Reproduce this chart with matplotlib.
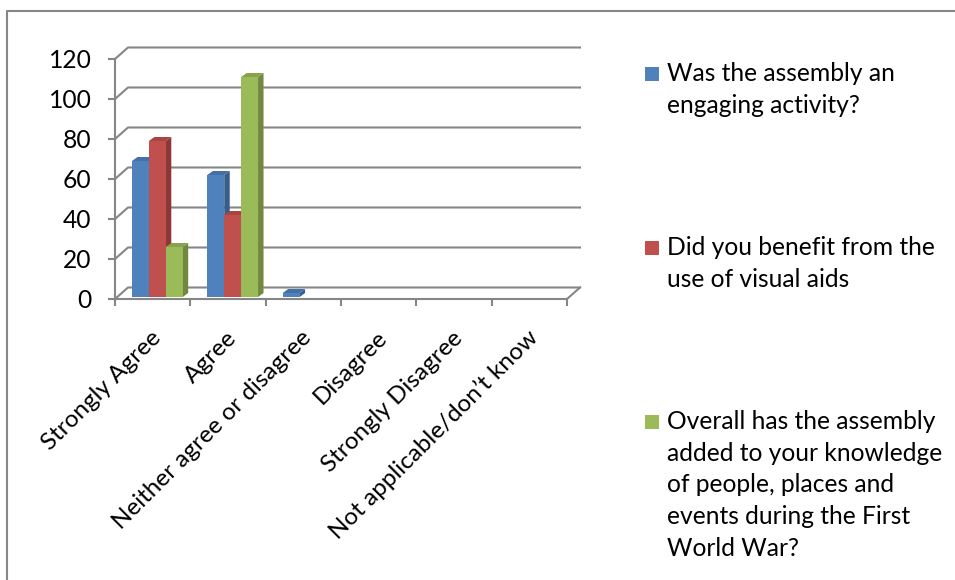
import matplotlib
matplotlib.use("Agg")
import matplotlib.pyplot as plt
import matplotlib.transforms as mtransforms
from matplotlib.patches import Polygon, Rectangle
from matplotlib.lines import Line2D

# Survey responses per category
categories = [
    "Strongly Agree",
    "Agree",
    "Neither agree or disagree",
    "Disagree",
    "Strongly Disagree",
    "Not applicable/don\u2019t know",
]
engaging = [68, 61, 2, 0, 0, 0]
visual_aids = [78, 41, 0, 0, 0, 0]
knowledge = [25, 110, 0, 0, 0, 0]

series_labels = [
    "Was the assembly an\nengaging activity?",
    "Did you benefit from the\nuse of visual aids",
    "Overall has the assembly\nadded to your knowledge\nof people, places and\nevents during the First\nWorld War?",
]
y_ticks = [0, 20, 40, 60, 80, 100, 120]

# Excel 2007 palette: front, top, side
front_colors = ["#4F81BD", "#C0504D", "#9BBB59"]
top_colors = ["#4470A6", "#A84441", "#86A44B"]
side_colors = ["#385D8A", "#8C3836", "#71893F"]
GRID = "#868686"
FS = 17.7
FS_CAT = 17.5

plt.rcParams["font.family"] = ["Lato", "DejaVu Sans"]

W, H = 955, 580
fig = plt.figure(figsize=(W / 100, H / 100), dpi=100)

# axes = front plane of the 3D plot
x0_px, x1_px, y0_px, y1_px = 115, 567, 299, 59
ax = fig.add_axes([x0_px / W, 1 - y0_px / H, (x1_px - x0_px) / W, (y0_px - y1_px) / H])
n = len(categories)
ax.set_xlim(0, n)
ax.set_ylim(0, 120)
ppx = (x1_px - x0_px) / n      # pixels per category
ppy = (y0_px - y1_px) / 120.0  # pixels per unit

# depth offsets in data units
back_dx, back_dy = 13 / ppx, 11.5 / ppy
bar_dx, bar_dy = 5.5 / ppx, 4 / ppy
base_dy = 2 / ppy  # columns stand slightly behind the front edge

for s in ["top", "right"]:
    ax.spines[s].set_visible(False)
for s in ["left", "bottom"]:
    ax.spines[s].set_color(GRID)
    ax.spines[s].set_linewidth(1.5)
    ax.spines[s].set_zorder(1)

ax.set_yticks(y_ticks)
ax.tick_params(axis="y", length=5, width=1.5, color=GRID, labelsize=FS, pad=12)
ax.set_xticks(range(n + 1))
ax.set_xticklabels([])
ax.tick_params(axis="x", length=5, width=1.5, color=GRID)

# back wall gridlines with diagonals to the front axis
for v in y_ticks:
    ax.plot([0, back_dx, n + back_dx], [v, v + back_dy, v + back_dy],
            color=GRID, lw=1.5, clip_on=False, zorder=1)
# floor right edge
ax.plot([n, n + back_dx], [0, back_dy], color=GRID, lw=1.5, clip_on=False, zorder=1)

# 3D columns
bar_w = 16.9 / ppx
group_off = 17 / ppx
for i in range(n):
    for j, vals in enumerate([engaging, visual_aids, knowledge]):
        v = vals[i]
        if v <= 0:
            continue
        left = i + group_off + j * bar_w
        right = left + bar_w
        b, t = base_dy, base_dy + v
        side = Polygon([(right, b), (right, t), (right + bar_dx, t + bar_dy), (right + bar_dx, b + bar_dy)],
                       closed=True, facecolor=side_colors[j], edgecolor="none", zorder=3, clip_on=False)
        top = Polygon([(left, t), (right, t), (right + bar_dx, t + bar_dy), (left + bar_dx, t + bar_dy)],
                      closed=True, facecolor=top_colors[j], edgecolor="none", zorder=3, clip_on=False)
        ax.add_patch(side)
        ax.add_patch(top)
        ax.bar(left, v, bottom=b, width=bar_w, align="edge", color=front_colors[j],
               zorder=3, clip_on=False)

# rotated category labels, right end just under each category centre
label_tr = ax.transData + mtransforms.ScaledTranslation(0.05, -0.355, fig.dpi_scale_trans)
for i, cat in enumerate(categories):
    ax.text(i + 0.5, 0, cat, transform=label_tr, rotation=45, rotation_mode="anchor",
            ha="right", va="center", fontsize=FS_CAT, color="black")

# legend drawn beside the plot
legend_tops = [62, 236, 410]
for j, (lab, top_px) in enumerate(zip(series_labels, legend_tops)):
    fig.patches.append(Rectangle((645 / W, 1 - 81 / H - (top_px - 62) / H), 14 / W, 14 / H,
                                 transform=fig.transFigure, facecolor=front_colors[j],
                                 edgecolor="none"))
    fig.text(667 / W, 1 - top_px / H, lab, ha="left", va="top", fontsize=FS,
             linespacing=1.46, color="black")

# chart area border (top and left visible)
fig.add_artist(Line2D([7 / W, 7 / W, 1.0], [0.0, 1 - 11 / H, 1 - 11 / H],
                      transform=fig.transFigure, color=GRID, lw=1.5))

fig.savefig("out.png", dpi=100)
